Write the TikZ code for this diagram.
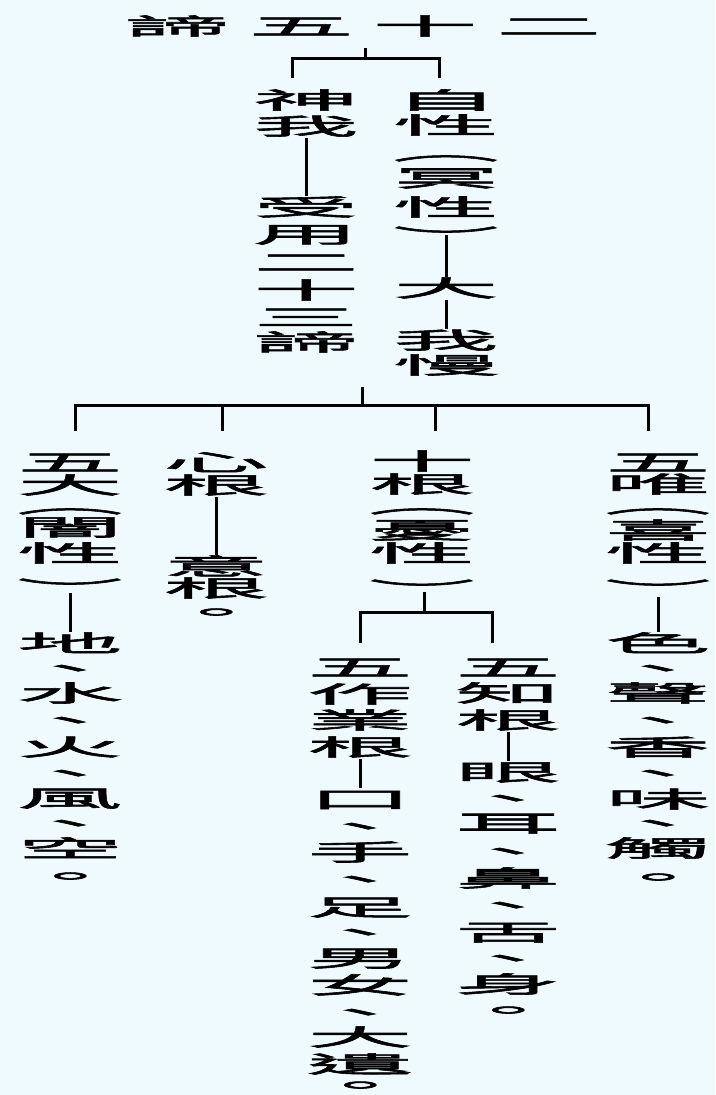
\documentclass[tikz,border=0pt]{standalone}
\usepackage{fontspec}
\newfontfamily\cjk[FakeStretch=4.6,FakeBold=2.5]{Noto Sans CJK TC}
\usetikzlibrary{calc}
\definecolor{bg}{RGB}{239,250,255}
\begin{document}
\begin{tikzpicture}[x=1pt,y=-1pt,
  ch/.style={font=\cjk\fontsize{23}{23}\selectfont, inner sep=0pt, outer sep=0pt,
             text height=20.24pt, text depth=2.76pt, anchor=center},
  pu/.style={ch, text height=4pt, text depth=4pt,
             execute at begin node={\lower8.74pt\hbox\bgroup}, execute at end node=\egroup},
  pa1/.style={ch, text height=3pt, text depth=3pt,
             execute at begin node={\lower4.74pt\hbox\bgroup}, execute at end node=\egroup},
  pa2/.style={ch, text height=3pt, text depth=3pt,
             execute at begin node={\lower16.74pt\hbox\bgroup}, execute at end node=\egroup},
  ln/.style={line width=3pt, black}]
\fill[bg] (0,0) rectangle (715,1095);
\useasboundingbox (0,0) rectangle (715,1095);
% title
\node[ch] (T) at (363,26) {諦\hspace{18pt}五\hspace{18pt}十\hspace{18pt}二};
% upper columns
\foreach \c/\y/\s [count=\i] in {神/100/ch,我/126/ch,受/207/ch,用/234/ch,二/262/ch,十/290/ch,三/317/ch,諦/342/ch}
  \node[\s] (S\i) at (306,\y) {\c};
\foreach \c/\y/\s [count=\i] in {自/100/ch,性/125/ch,︵/155/pa1,冥/178/ch,性/207/ch,︶/229/pa2,大/288/ch,我/340/ch,慢/365/ch}
  \node[\s] (Z\i) at (446,\y) {\c};
% lower columns
\foreach \c/\y/\s [count=\i] in {五/462/ch,大/485/ch,︵/508/pa1,闇/527/ch,性/553/ch,︶/581/pa2,地/643/ch,、/668/pu,水/693/ch,、/720/pu,火/747/ch,、/773/pu,風/798/ch,、/823/pu,空/848/ch,。/876/pu}
  \node[\s] (A\i) at (70,\y) {\c};
\foreach \c/\y/\s [count=\i] in {心/462/ch,根/485/ch,意/566/ch,根/588/ch,。/612/pu}
  \node[\s] (B\i) at (216,\y) {\c};
\foreach \c/\y/\s [count=\i] in {十/461/ch,根/484/ch,︵/508/pa1,憂/530/ch,性/553/ch,︶/582/pa2}
  \node[\s] (C\i) at (422,\y) {\c};
\foreach \c/\y/\s [count=\i] in {五/462/ch,唯/484/ch,︵/508/pa1,喜/530/ch,性/553/ch,︶/582/pa2,色/643/ch,、/668/pu,聲/693/ch,、/720/pu,香/747/ch,、/773/pu,味/799/ch,、/823/pu,觸/848/ch,。/877/pu}
  \node[\s] (D\i) at (658,\y) {\c};
\foreach \c/\y/\s [count=\i] in {五/667/ch,作/694/ch,業/720/ch,根/747/ch,口/799/ch,、/826/pu,手/852/ch,、/879/pu,足/907/ch,、/932/pu,男/958/ch,女/985/ch,、/1012/pu,大/1037/ch,遺/1064/ch,。/1085/pu}
  \node[\s] (E\i) at (360,\y) {\c};
\foreach \c/\y/\s [count=\i] in {五/667/ch,知/693/ch,根/720/ch,眼/772/ch,、/798/pu,耳/823/ch,、/851/pu,鼻/878/ch,、/905/pu,舌/932/ch,、/958/pu,身/984/ch,。/1010/pu}
  \node[\s] (F\i) at (508,\y) {\c};
% brackets
\coordinate (b1c) at (365,58);
\draw[ln, shorten >=10pt] (b1c) -- (b1c |- T.south);
\draw[ln] ([shift={(-14,-11)}]S1.north) |- (b1c) -| ([shift={(-7,-11)}]Z1.north);
\coordinate (b2c) at (362,405);
\draw[ln] (b2c) -- ++(0,-18);
\draw[ln] ([shift={(5,-19.5)}]A1.north) |- (b2c) -| ([shift={(-10,-19.5)}]D1.north);
\draw[ln] ([shift={(6,-19.5)}]B1.north) |- (b2c);
\draw[ln] ([shift={(13,-18.5)}]C1.north) |- (b2c);
\coordinate (b3c) at (424,612);
\draw[ln] (b3c) -- ++(0,-20);
\draw[ln] ([shift={(0,-13)}]E1.north) |- (b3c) -| ([shift={(-16,-13)}]F1.north);
% column links
\draw[ln] (S2.south) -- (S3.north);
\draw[ln, shorten <=3pt] (Z6.south) -- (Z7.north);
\draw[ln] (Z7.south) -- (Z8.north);
\draw[ln, shorten <=9pt] (A6.south) -- (A7.north);
\draw[ln] (B2.south) -- (B3.north);
\draw[ln, shorten <=12pt] (D6.south) -- (D7.north);
\draw[ln] (E4.south) -- (E5.north);
\draw[ln] (F3.south) -- (F4.north);
\end{tikzpicture}
\end{document}
